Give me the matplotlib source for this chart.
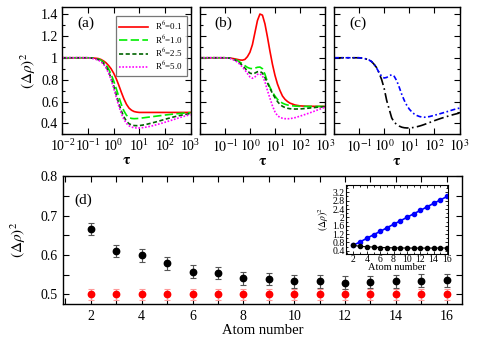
import numpy as np
import matplotlib
matplotlib.use("Agg")
import matplotlib.pyplot as plt
from matplotlib.ticker import LogFormatterSciNotation, MultipleLocator, FixedLocator, NullFormatter

plt.rcParams['font.family'] = ['Liberation Serif', 'DejaVu Serif']
plt.rcParams['mathtext.fontset'] = 'stix'

# log10(tau) sampling of the curves
log_tau = [-2.0, -1.5, -1.0, -0.8, -0.6, -0.5, -0.4, -0.3, -0.2, -0.1, 0.0, 0.1, 0.2,
           0.3, 0.4, 0.5, 0.6, 0.7, 0.8, 0.9, 1.0, 1.1, 1.2, 1.3, 1.4, 1.5, 1.6,
           1.8, 2.0, 2.25, 2.5, 2.75, 3.0]

# panel (a)
a_r01 = [1.0, 1.0, 1.0, 0.998, 0.993, 0.985, 0.972, 0.955, 0.93, 0.9, 0.86, 0.81, 0.75,
         0.685, 0.625, 0.575, 0.54, 0.52, 0.508, 0.503, 0.5, 0.5, 0.5, 0.5, 0.5, 0.5, 0.5,
         0.5, 0.5, 0.5, 0.5, 0.5, 0.5]
a_r10 = [1.0, 1.0, 1.0, 0.997, 0.988, 0.978, 0.962, 0.937, 0.9, 0.85, 0.79, 0.72, 0.645,
         0.575, 0.515, 0.475, 0.453, 0.445, 0.443, 0.444, 0.446, 0.449, 0.452, 0.455, 0.458,
         0.461, 0.464, 0.47, 0.476, 0.483, 0.489, 0.494, 0.497]
a_r25 = [1.0, 1.0, 1.0, 0.995, 0.983, 0.97, 0.95, 0.92, 0.875, 0.815, 0.745, 0.665, 0.585,
         0.515, 0.46, 0.42, 0.397, 0.385, 0.38, 0.379, 0.38, 0.383, 0.387, 0.392, 0.398,
         0.404, 0.41, 0.423, 0.437, 0.453, 0.468, 0.48, 0.49]
a_r50 = [1.0, 1.0, 1.0, 0.993, 0.979, 0.965, 0.943, 0.91, 0.862, 0.8, 0.725, 0.64, 0.56,
         0.49, 0.437, 0.4, 0.378, 0.366, 0.36, 0.358, 0.358, 0.36, 0.363, 0.367, 0.372,
         0.377, 0.383, 0.396, 0.41, 0.428, 0.447, 0.465, 0.48]

# panel (b)
b_r01 = [1.0, 1.0, 1.0, 0.998, 0.99, 0.985, 0.98, 0.978, 0.985, 1.01, 1.05, 1.12, 1.23,
         1.34, 1.40, 1.39, 1.31, 1.19, 1.06, 0.94, 0.84, 0.76, 0.70, 0.65, 0.62, 0.60,
         0.585, 0.568, 0.56, 0.557, 0.556, 0.555, 0.555]
b_r10 = [1.0, 1.0, 1.0, 0.997, 0.985, 0.975, 0.96, 0.945, 0.928, 0.912, 0.903, 0.9, 0.905,
         0.913, 0.915, 0.9, 0.85, 0.78, 0.73, 0.685, 0.65, 0.62, 0.6, 0.585, 0.575, 0.568,
         0.563, 0.558, 0.556, 0.555, 0.555, 0.555, 0.555]
b_r25 = [1.0, 1.0, 1.0, 0.996, 0.98, 0.967, 0.95, 0.93, 0.905, 0.88, 0.86, 0.853, 0.86,
         0.872, 0.875, 0.86, 0.82, 0.77, 0.72, 0.675, 0.635, 0.6, 0.573, 0.556, 0.545,
         0.538, 0.534, 0.531, 0.532, 0.537, 0.543, 0.549, 0.553]
b_r50 = [1.0, 1.0, 1.0, 0.995, 0.975, 0.96, 0.94, 0.915, 0.888, 0.855, 0.825, 0.812, 0.825,
         0.848, 0.853, 0.835, 0.78, 0.70, 0.63, 0.56, 0.505, 0.47, 0.455, 0.447, 0.443,
         0.442, 0.443, 0.452, 0.466, 0.485, 0.505, 0.527, 0.548]

# panel (c)
c_black = [1.0, 1.0, 1.0, 0.995, 0.98, 0.965, 0.94, 0.91, 0.86, 0.8, 0.72, 0.61, 0.53,
           0.45, 0.41, 0.39, 0.375, 0.365, 0.36, 0.358, 0.358, 0.36, 0.364, 0.369, 0.375,
           0.382, 0.39, 0.407, 0.425, 0.445, 0.463, 0.48, 0.495]
c_blue = [1.0, 1.0, 1.0, 0.995, 0.98, 0.965, 0.94, 0.905, 0.865, 0.83, 0.815, 0.82, 0.835,
          0.845, 0.83, 0.79, 0.73, 0.665, 0.61, 0.565, 0.53, 0.505, 0.485, 0.472, 0.463,
          0.458, 0.456, 0.462, 0.474, 0.49, 0.507, 0.525, 0.54]

# panel (d)
atoms = [2, 3, 4, 5, 6, 7, 8, 9, 10, 11, 12, 13, 14, 15, 16]
d_black = [0.666, 0.61, 0.599, 0.579, 0.558, 0.554, 0.541, 0.539, 0.533, 0.533, 0.530,
           0.532, 0.533, 0.535, 0.536]
d_black_err = [0.016] * 15
d_red = [0.5] * 15
d_red_err = [0.013] * 15

# inset
inset_blue = [0.67, 0.83, 1.0, 1.17, 1.33, 1.5, 1.67, 1.83, 2.0, 2.17, 2.33, 2.5, 2.67,
              2.83, 3.0]
inset_black = d_black

legend_labels = [r'R$^6$=0.1', r'R$^6$=1.0', r'R$^6$=2.5', r'R$^6$=5.0']
ylab = r'$(\Delta\rho)^2$'

fig = plt.figure(figsize=(4.91, 3.40), dpi=100)
tau = 10.0 ** np.array(log_tau)

def style_top(ax, show_ylabels, first):
    ax.set_xscale('log')
    ax.set_xlim(1e-2, 1e3)
    ax.set_ylim(0.3, 1.46)
    ax.xaxis.set_major_locator(FixedLocator([1e-2, 1e-1, 1e0, 1e1, 1e2, 1e3]))
    ax.xaxis.set_minor_locator(FixedLocator([]))
    if first:
        ax.xaxis.set_major_formatter(LogFormatterSciNotation())
    else:
        # first decade label is left out next to the previous panel
        ax.xaxis.set_major_formatter(
            plt.FuncFormatter(lambda v, p: '' if v < 0.05 else r'$10^{%d}$' % round(np.log10(v))))
    ax.yaxis.set_major_locator(FixedLocator([0.4, 0.6, 0.8, 1.0, 1.2, 1.4]))
    ax.yaxis.set_minor_locator(MultipleLocator(0.1))
    ax.yaxis.set_major_formatter(plt.FuncFormatter(lambda v, p: ('%g' % v)))
    if not show_ylabels:
        ax.yaxis.set_major_formatter(NullFormatter())
    ax.tick_params(which='both', direction='in', top=True, right=True, labelsize=10, pad=3)
    ax.tick_params(which='major', length=4, width=0.8)
    ax.tick_params(which='minor', length=2.5, width=0.8)
    ax.set_xlabel(r'$\mathbf{\tau}$', fontsize=11, labelpad=0)
    for s in ax.spines.values():
        s.set_linewidth(1.0)

lw = 1.2
ax_a = fig.add_axes([0.127, 0.605, 0.261, 0.373])
ax_a.plot(tau, a_r01, color='red', lw=lw, label=legend_labels[0])
ax_a.plot(tau, a_r10, color='#00ee00', lw=lw, dashes=(5, 2), label=legend_labels[1])
ax_a.plot(tau, a_r25, color='#006400', lw=lw, dashes=(2.5, 1.5), label=legend_labels[2])
ax_a.plot(tau, a_r50, color='magenta', lw=lw, dashes=(1, 1), label=legend_labels[3])
style_top(ax_a, True, True)
ax_a.set_ylabel(ylab, fontsize=11, labelpad=2)
ax_a.text(0.12, 0.85, '(a)', transform=ax_a.transAxes, fontsize=11)
leg = ax_a.legend(loc='upper right', fontsize=6.5, handlelength=3.2, frameon=True,
                  fancybox=False, borderpad=0.4, labelspacing=0.15, handletextpad=0.8,
                  bbox_to_anchor=(0.97, 0.93), borderaxespad=0)
leg.get_frame().set_edgecolor('#555555')
leg.get_frame().set_linewidth(0.9)

ax_b = fig.add_axes([0.407, 0.605, 0.255, 0.373])
ax_b.plot(tau, b_r01, color='red', lw=lw)
ax_b.plot(tau, b_r10, color='#00ee00', lw=lw, dashes=(5, 2))
ax_b.plot(tau, b_r25, color='#006400', lw=lw, dashes=(2.5, 1.5))
ax_b.plot(tau, b_r50, color='magenta', lw=lw, dashes=(1, 1))
style_top(ax_b, False, False)
ax_b.text(0.12, 0.85, '(b)', transform=ax_b.transAxes, fontsize=11)

ax_c = fig.add_axes([0.680, 0.605, 0.256, 0.373])
ax_c.plot(tau, c_black, color='black', lw=lw, dashes=(6, 2, 1, 2))
ax_c.plot(tau, c_blue, color='blue', lw=lw, dashes=(3, 1.5, 1, 1.5))
style_top(ax_c, False, False)
ax_c.text(0.12, 0.85, '(c)', transform=ax_c.transAxes, fontsize=11)

# panel (d)
ax_d = fig.add_axes([0.128, 0.106, 0.813, 0.376])
ax_d.errorbar(atoms, d_red, yerr=d_red_err, fmt='o', color='red', ms=4.6, ecolor='#ff9999',
              elinewidth=0.8, capsize=2.5, capthick=0.8)
ax_d.errorbar(atoms, d_black, yerr=d_black_err, fmt='o', color='black', ms=4.6,
              ecolor='#555555', elinewidth=0.8, capsize=2.5, capthick=0.8)
ax_d.set_xlim(0.9, 16.6)
ax_d.set_ylim(0.476, 0.8)
ax_d.xaxis.set_major_locator(MultipleLocator(2))
ax_d.xaxis.set_minor_locator(MultipleLocator(1))
ax_d.yaxis.set_major_locator(MultipleLocator(0.1))
ax_d.yaxis.set_minor_locator(MultipleLocator(0.05))
ax_d.yaxis.set_major_formatter(plt.FuncFormatter(lambda v, p: '%.1f' % v))
ax_d.tick_params(which='both', direction='in', top=True, right=True, labelsize=10, pad=4)
ax_d.tick_params(which='major', length=4, width=0.8)
ax_d.tick_params(which='minor', length=4, width=0.8)
ax_d.set_xlabel('Atom number', fontsize=10.5, labelpad=1)
ax_d.set_ylabel(ylab, fontsize=11, labelpad=9)
ax_d.text(0.03, 0.78, '(d)', transform=ax_d.transAxes, fontsize=11)
for s in ax_d.spines.values():
    s.set_linewidth(1.0)

# inset
ax_i = fig.add_axes([0.705, 0.253, 0.208, 0.203])
ax_i.plot(atoms, inset_blue, 'o-', color='blue', ms=3, lw=1.2)
ax_i.plot(atoms, inset_black, 'o-', color='black', ms=3, lw=0.8)
ax_i.set_xlim(0.9, 16.2)
ax_i.set_ylim(0.25, 3.55)
ax_i.xaxis.set_major_locator(MultipleLocator(2))
ax_i.xaxis.set_minor_locator(MultipleLocator(1))
ax_i.yaxis.set_major_locator(MultipleLocator(0.4))
ax_i.yaxis.set_minor_locator(MultipleLocator(0.2))
ax_i.yaxis.set_major_formatter(plt.FuncFormatter(lambda v, p: '%g' % round(v, 1)))
ax_i.tick_params(which='both', direction='in', top=True, right=True, labelsize=7, pad=1)
ax_i.tick_params(which='major', length=2.5, width=0.6)
ax_i.tick_params(which='minor', length=1.5, width=0.6)
ax_i.set_xlabel('Atom number', fontsize=7.5, labelpad=-1)
ax_i.set_ylabel(ylab, fontsize=7, labelpad=1)

fig.savefig('out.png', dpi=100)
